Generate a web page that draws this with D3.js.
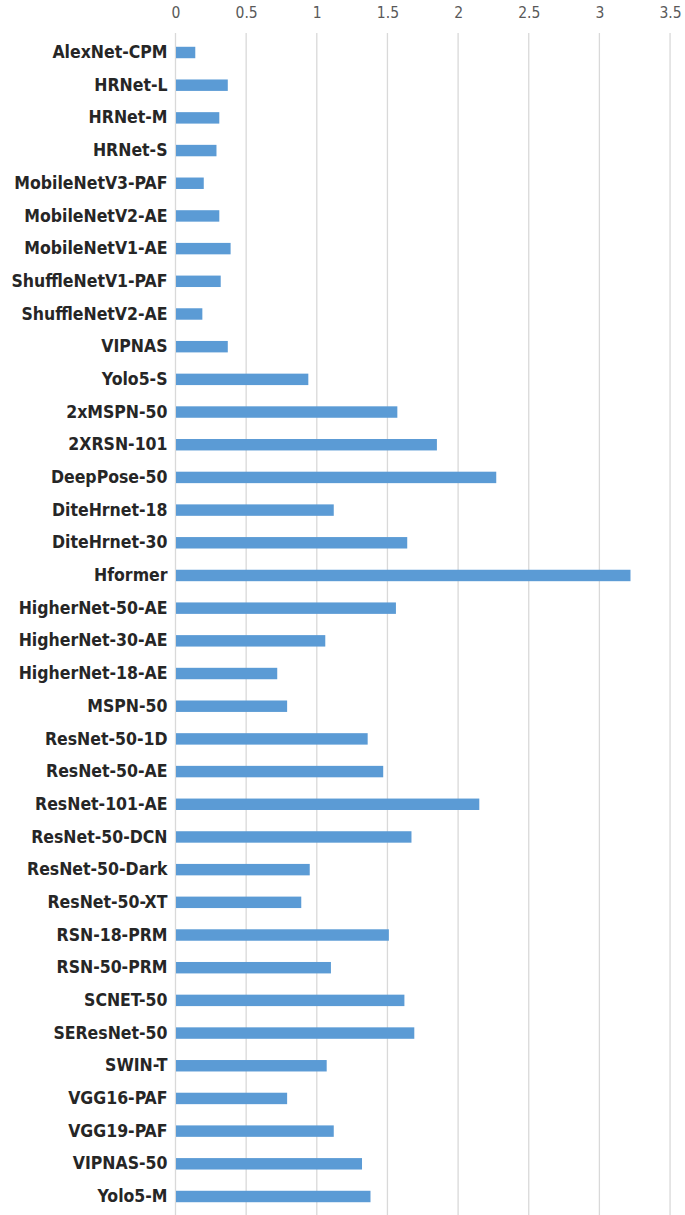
<!DOCTYPE html>
<html>
<head>
<meta charset="utf-8">
<script src="https://cdn.jsdelivr.net/npm/d3@7"></script>
<style>
  html, body { margin: 0; padding: 0; background: #fff; }
  svg { display: block; }
</style>
</head>
<body>
<div id="chart"></div>
<script>
const categories = [
  "AlexNet-CPM","HRNet-L","HRNet-M","HRNet-S","MobileNetV3-PAF","MobileNetV2-AE",
  "MobileNetV1-AE","ShuffleNetV1-PAF","ShuffleNetV2-AE","VIPNAS","Yolo5-S","2xMSPN-50",
  "2XRSN-101","DeepPose-50","DiteHrnet-18","DiteHrnet-30","Hformer","HigherNet-50-AE",
  "HigherNet-30-AE","HigherNet-18-AE","MSPN-50","ResNet-50-1D","ResNet-50-AE","ResNet-101-AE",
  "ResNet-50-DCN","ResNet-50-Dark","ResNet-50-XT","RSN-18-PRM","RSN-50-PRM","SCNET-50",
  "SEResNet-50","SWIN-T","VGG16-PAF","VGG19-PAF","VIPNAS-50","Yolo5-M"
];
const values = [
  0.14, 0.37, 0.31, 0.29, 0.20, 0.31,
  0.39, 0.32, 0.19, 0.37, 0.94, 1.57,
  1.85, 2.27, 1.12, 1.64, 3.22, 1.56,
  1.06, 0.72, 0.79, 1.36, 1.47, 2.15,
  1.67, 0.95, 0.89, 1.51, 1.10, 1.62,
  1.69, 1.07, 0.79, 1.12, 1.32, 1.38
];
const tickValues = [0, 0.5, 1, 1.5, 2, 2.5, 3, 3.5];
const tickLabels = ["0", "0.5", "1", "1.5", "2", "2.5", "3", "3.5"];

const W = 685, H = 1215;
const margin = { top: 36, right: 15, bottom: 2, left: 175.5 };

const svg = d3.select("#chart").append("svg")
  .attr("width", W).attr("height", H);

const x = d3.scaleLinear().domain([0, 3.5])
  .range([margin.left, margin.left + 141.3 * 3.5]);
const y = d3.scaleBand().domain(categories)
  .range([margin.top, H - margin.bottom])
  .paddingInner(0.65).paddingOuter(0.33);

// gridlines
svg.append("g").selectAll("line").data(tickValues).join("line")
  .attr("x1", d => x(d)).attr("x2", d => x(d))
  .attr("y1", 33).attr("y2", H)
  .attr("stroke", "#d9d9d9").attr("stroke-width", 1.3);

// top tick labels
const xAxis = d3.axisTop(x).tickValues(tickValues)
  .tickFormat((d, i) => tickLabels[i]).tickSize(0).tickPadding(0);
const gx = svg.append("g").attr("transform", "translate(0,18)").call(xAxis);
gx.select(".domain").remove();
gx.selectAll("text")
  .attr("font-family", "'DejaVu Sans Condensed', sans-serif")
  .attr("font-size", 15.5).attr("fill", "#595959");

// bars
svg.append("g").selectAll("rect").data(values).join("rect")
  .attr("x", x(0) + 0.5)
  .attr("y", (d, i) => y(categories[i]))
  .attr("width", d => x(d) - x(0) - 0.5)
  .attr("height", y.bandwidth())
  .attr("fill", "#5b9bd5");

// category labels
const yAxis = d3.axisLeft(y).tickSize(0).tickPadding(8);
const gy = svg.append("g").attr("transform", `translate(${x(0)},0)`).call(yAxis);
gy.select(".domain").remove();
gy.selectAll("text")
  .attr("font-family", "'DejaVu Sans Condensed', sans-serif")
  .attr("font-weight", "bold")
  .attr("font-size", 17.5).attr("fill", "#262626");
</script>
</body>
</html>
